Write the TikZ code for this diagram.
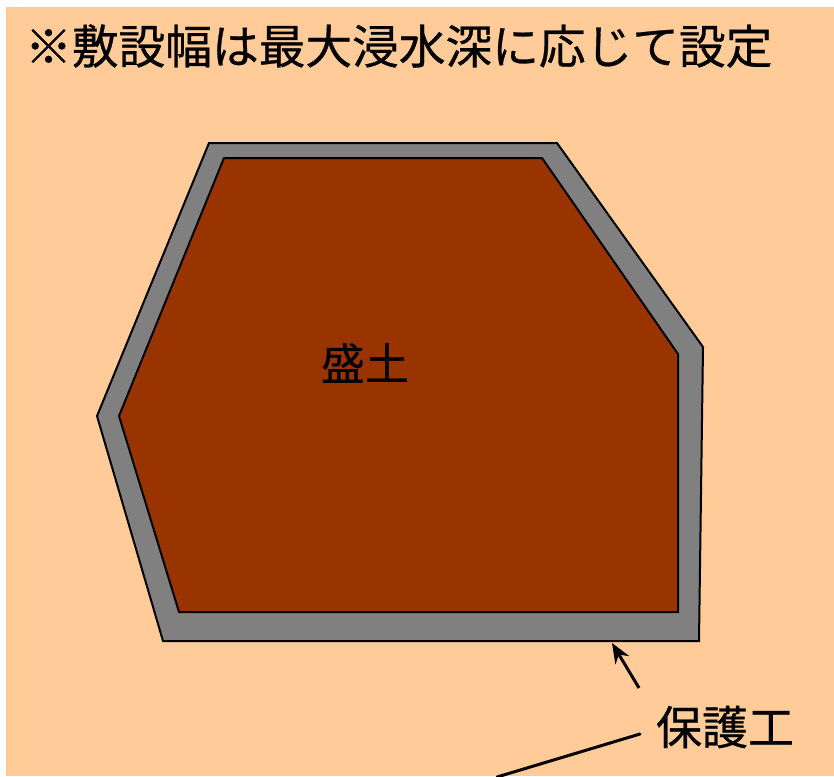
\documentclass[tikz,border=0pt]{standalone}
\usepackage{fontspec}
\newfontfamily\jp[FakeBold=0.6]{Noto Sans CJK JP}
\usetikzlibrary{arrows.meta}
\definecolor{bgpeach}{HTML}{FFCC99}
\definecolor{soil}{HTML}{993300}
\definecolor{guard}{HTML}{808080}
\begin{document}
\begin{tikzpicture}[x=1pt,y=-1pt,
  txt/.style={font=\jp\fontsize{#1}{#1}\selectfont, inner sep=0pt, text=black},
  outline/.style={draw=black, line width=2pt, line join=miter}]
\useasboundingbox (0,0) rectangle (834,776);
\fill[bgpeach] (6,7) rectangle (834,776);
% protection layer (outer)
\filldraw[outline, fill=guard] (209,143) -- (557,143) -- (703,347) -- (699,641) -- (163,641) -- (97,416) -- cycle;
% embankment (inner)
\filldraw[outline, fill=soil] (224,158) -- (542,158) -- (678,354) -- (678,612) -- (179,612) -- (119,416) -- cycle;
\node[txt=46.7, anchor=west] (title) at (25,46) {※敷設幅は最大浸水深に応じて設定};
\node[txt=44] (embank) at (365,363) {盛土};
\node[txt=46] (prot) at (725,727) {保護工};
\coordinate (arrtail) at (639,688);
\coordinate (arrtip) at (612,643);
\coordinate (ltop) at (640,734);
\coordinate (lbot) at (497,777);
\draw[line width=3pt, -{Stealth[length=20pt,width=16pt]}] (arrtail) -- (arrtip);
\draw[line width=3pt, line cap=round] (ltop) -- (lbot);
\end{tikzpicture}
\end{document}
